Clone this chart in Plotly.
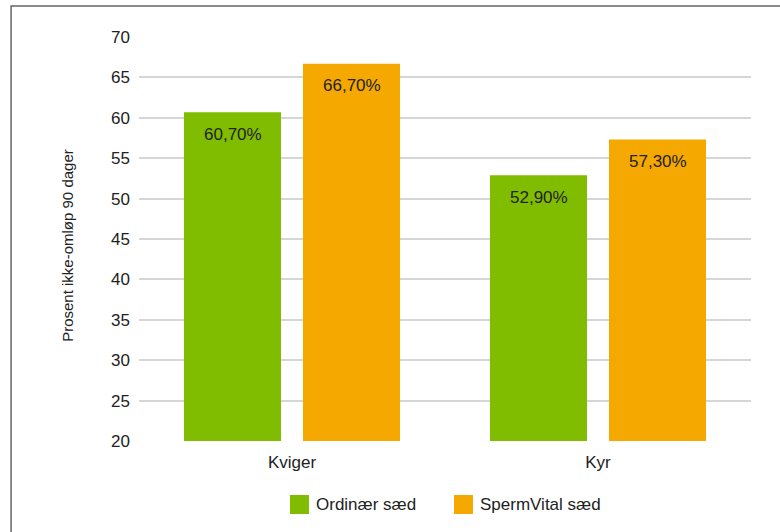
import plotly.graph_objects as go

categories = ["Kviger", "Kyr"]
series_names = ["Ordinær sæd", "SpermVital sæd"]
ordinaer = [60.7, 52.9]
spermvital = [66.7, 57.3]
colors = ["#80bc00", "#f5a800"]
y_ticks = [20, 25, 30, 35, 40, 45, 50, 55, 60, 65, 70]
y_title = "Prosent ikke-omløp 90 dager"

FONT = "Liberation Sans, Arial, Helvetica, sans-serif"
TXT = "#222222"

def fmt(v):
    return f"{v:.2f}".replace(".", ",") + "%"

fig = go.Figure()
series = [ordinaer, spermvital]
for name, vals, col in zip(series_names, series, colors):
    fig.add_trace(go.Bar(
        x=categories, y=[v - 20 for v in vals], base=20, name=name,
        marker=dict(color=col, line=dict(width=0)),
        hoverinfo="skip", showlegend=False,
    ))

# value labels near the top inside each bar
annotations = []
offsets = [-0.5, 0.5]
for si, vals in enumerate(series):
    for ci, v in enumerate(vals):
        annotations.append(dict(
            x=ci, y=v, xref="x", yref="y", text=fmt(v), showarrow=False,
            xshift=offsets[si] * 119, yshift=-22, yanchor="middle",
            font=dict(size=17, color=TXT, family=FONT)))

# custom legend (large square swatches)
legend_x = [0.2467, 0.5147]
shapes = []
for name, col, lx in zip(series_names, colors, legend_x):
    shapes.append(dict(type="rect", xref="paper", yref="paper", x0=lx, x1=lx + 0.031,
                       y0=-0.1807, y1=-0.1337, fillcolor=col, line=dict(width=0)))
    annotations.append(dict(x=lx + 0.039, y=-0.157, xref="paper", yref="paper", text=name,
                            showarrow=False, xanchor="left", yanchor="middle",
                            font=dict(size=17, color=TXT, family=FONT)))

# y-axis title
annotations.append(dict(x=-0.118, y=0.485, xref="paper", yref="paper", text=y_title,
                        textangle=-90, showarrow=False, xanchor="center", yanchor="middle",
                        font=dict(size=15, color=TXT, family=FONT)))

shapes.append(dict(type="rect", xref="paper", yref="paper", x0=-0.209, x1=1.06,
                   y0=-0.26, y1=1.077, line=dict(color="#666666", width=1.5),
                   fillcolor="rgba(0,0,0,0)", layer="above"))

fig.update_layout(
    width=780, height=532,
    margin=dict(l=139, r=29, t=37, b=91),
    paper_bgcolor="white", plot_bgcolor="white",
    barmode="group", bargap=0.222, bargroupgap=0.185,
    font=dict(family=FONT, size=17, color=TXT),
    showlegend=False,
    xaxis=dict(showgrid=False, showline=False, ticks="", tickfont=dict(size=17),
               ticklabelstandoff=9),
    yaxis=dict(range=[20, 70], tickvals=y_ticks, showgrid=True, gridcolor="#d6d6d6",
               gridwidth=1.5, zeroline=False, showline=False, ticks="",
               tickfont=dict(size=17), ticklabelstandoff=8),
    shapes=shapes,
    annotations=annotations,
)
fig.write_html("out.html")
